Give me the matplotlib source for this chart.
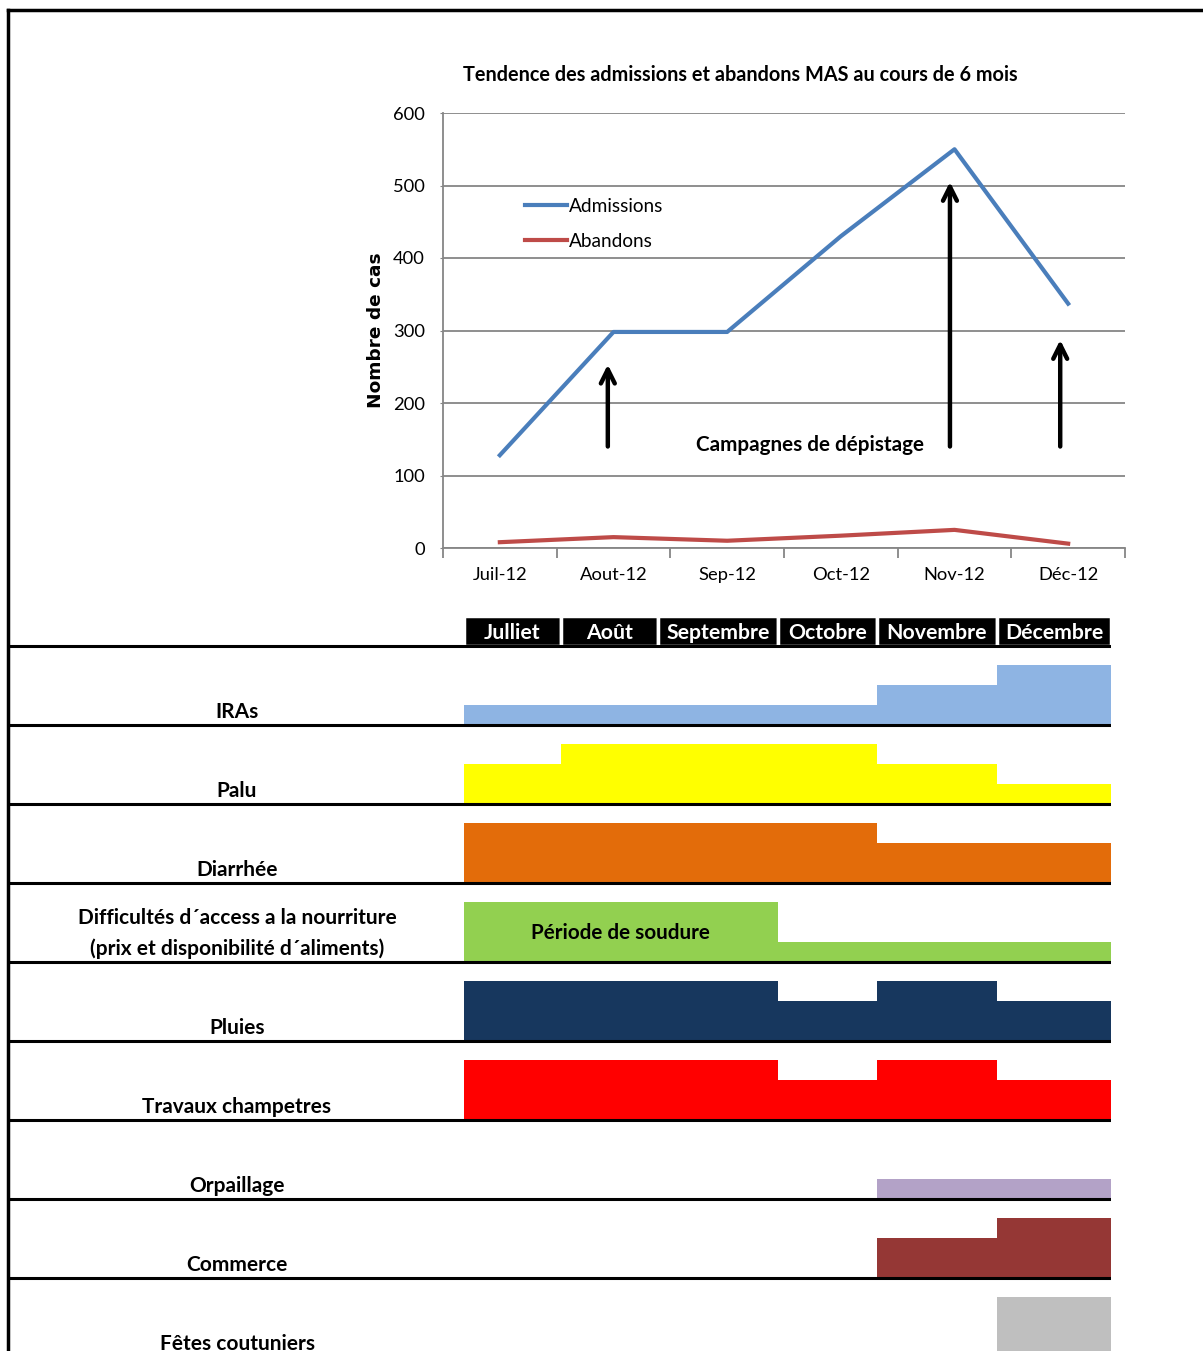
import numpy as np
import matplotlib
matplotlib.use("Agg")
import matplotlib.pyplot as plt
from matplotlib.lines import Line2D

plt.rcParams['font.family'] = ['Lato', 'DejaVu Sans']

# --- trend data (MAS admissions / drop-outs) ---
months_short = ['Juil-12', 'Aout-12', 'Sep-12', 'Oct-12', 'Nov-12', 'Déc-12']
admissions = [128, 298, 298, 430, 550, 337]
abandons = [8, 15, 10, 17, 25, 6]

# screening campaigns (arrow position on the month axis, arrow tip value)
campaign_x = [0.95, 3.96, 4.93]
campaign_tip = [253, 505, 287]
campaign_base = 140

# --- seasonal calendar ---
months_long = ['Julliet', 'Août', 'Septembre', 'Octobre', 'Novembre', 'Décembre']
row_labels = ['IRAs', 'Palu', 'Diarrhée',
              'Difficultés d´access a la nourriture\n(prix et disponibilité d´aliments)',
              'Pluies', 'Travaux champetres', 'Orpaillage', 'Commerce',
              'Fêtes coutuniers']
iras = [1, 1, 1, 1, 2, 3]
palu = [2, 3, 3, 3, 2, 1]
diarrhee = [3, 3, 3, 3, 2, 2]
difficultes = [3, 3, 3, 1, 1, 1]
pluies = [3, 3, 3, 2, 3, 2]
travaux = [3, 3, 3, 2, 3, 2]
orpaillage = [0, 0, 0, 0, 1, 1]
commerce = [0, 0, 0, 0, 2, 3]
fetes = [0, 0, 0, 0, 0, 3]
row_levels = [iras, palu, diarrhee, difficultes, pluies, travaux,
              orpaillage, commerce, fetes]
row_colors = ['#8EB4E3', '#FFFF00', '#E36C0A', '#92D050', '#17375E',
              '#FF0000', '#B3A2C7', '#953735', '#BFBFBF']

W, H = 1203, 1351
fig = plt.figure(figsize=(W / 100, H / 100), dpi=100)

# ---------------- line chart ----------------
ax = fig.add_axes([443 / W, 1 - 548 / H, 682 / W, 435 / H])
x = np.arange(len(months_short))
ax.plot(x, admissions, color='#4A7EBB', lw=3, label='Admissions', zorder=3)
ax.plot(x, abandons, color='#BE4B48', lw=3, label='Abandons', zorder=3)
ax.set_xlim(-0.5, 5.5)
ax.set_ylim(0, 600)
ax.set_yticks(range(0, 601, 100))
ax.yaxis.grid(True, color='#868686', lw=1.3)
ax.set_axisbelow(True)
ax.set_xticks(x)
ax.set_xticklabels(months_short)
ax.set_xticks(np.arange(-0.5, 6, 1), minor=True)
ax.tick_params(axis='x', which='major', length=0, pad=14, labelsize=13.2)
ax.tick_params(axis='x', which='minor', length=7, width=1.3, color='#868686')
ax.tick_params(axis='y', length=2, color='#868686', labelsize=13.2, pad=11)
for side in ['top', 'right']:
    ax.spines[side].set_visible(False)
for side in ['left', 'bottom']:
    ax.spines[side].set_color('#868686')
    ax.spines[side].set_linewidth(1.3)
ax.set_ylabel('Nombre de cas', family='DejaVu Sans', fontweight='bold',
              fontsize=13.3, labelpad=6)
ax.legend(loc='upper left', bbox_to_anchor=(0.12, 0.805), frameon=False,
          fontsize=13.7, handlelength=2.2, handletextpad=0.1,
          labelspacing=0.95, borderpad=0, borderaxespad=0)

for cx, tip in zip(campaign_x, campaign_tip):
    ax.annotate('', xy=(cx, tip), xytext=(cx, campaign_base),
                arrowprops=dict(arrowstyle='->,head_length=1.0,head_width=0.5',
                                lw=3.2, color='black', shrinkA=0, shrinkB=0))
ax.text(2.73, campaign_base + 2, 'Campagnes de dépistage', ha='center',
        va='center', fontsize=14.9, fontweight='bold')

fig.text(740 / W, 1 - 75 / H,
         'Tendence des admissions et abandons MAS au cours de 6 mois',
         ha='center', va='center', fontsize=14.3, fontweight='bold')

# ---------------- seasonal calendar ----------------
label_col = 456                     # width of the label column
col_widths = [97, 97, 120, 99, 120, 114]
row_h = 79.0
level_h = 20 / row_h
header_h = 30 / row_h

cal = fig.add_axes([8 / W, 0, (label_col + sum(col_widths)) / W, (H - 600) / H])
cal.set_xlim(0, label_col + sum(col_widths))
cal.set_ylim(-(H - 646) / row_h, (646 - 600) / row_h)
cal.axis('off')

lefts = label_col + np.concatenate([[0], np.cumsum(col_widths)[:-1]])

# month header
cal.bar(lefts, [header_h] * 6, width=col_widths, bottom=0, align='edge',
        color='black', edgecolor='white', linewidth=2.5, zorder=2)
for lx, w, name in zip(lefts, col_widths, months_long):
    cal.text(lx + w / 2, 0.16, name, ha='center', va='center', color='white',
             fontsize=15.3, fontweight='bold', zorder=3)

for r, (levels, color, label) in enumerate(zip(row_levels, row_colors, row_labels)):
    base = -(r + 1)
    cal.bar(lefts, np.array(levels) * level_h, width=col_widths, bottom=base,
            align='edge', color=color, linewidth=0, zorder=2)
    cal.text(229, base + 0.035, label, ha='center', va='bottom', fontsize=15,
             fontweight='bold', linespacing=1.62, zorder=3)

cal.text(lefts[0] + 156, -4 + 0.37, 'Période de soudure', ha='center',
         va='center', fontsize=14.9, fontweight='bold', zorder=3)

cal.hlines(-np.arange(0, 9), 0, label_col + sum(col_widths), color='black',
           lw=2.2, zorder=4)

# page frame
fig.add_artist(Line2D([8 / W, 1], [1 - 10 / H] * 2, color='black', lw=2.5,
                      transform=fig.transFigure))
fig.add_artist(Line2D([8 / W] * 2, [0, 1 - 10 / H], color='black', lw=2.5,
                      transform=fig.transFigure))

fig.savefig('out.png', dpi=100)
